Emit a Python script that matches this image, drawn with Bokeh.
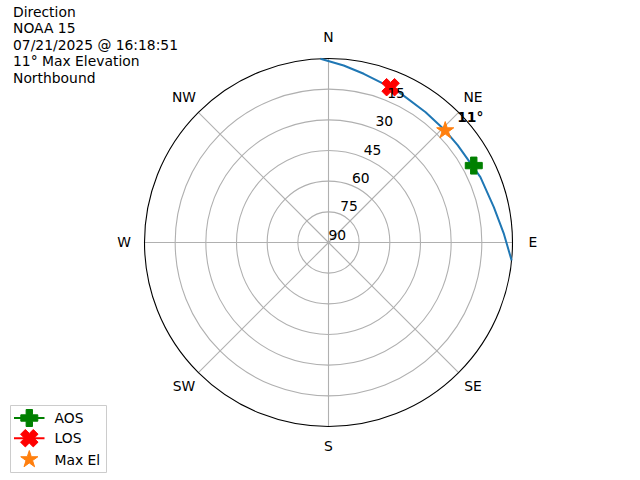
import numpy as np
from bokeh.plotting import figure
from bokeh.models import Range1d
from bokeh.core.properties import value
from bokeh.embed import file_html
from bokeh.resources import INLINE

# ---------------- data (azimuth deg, elevation deg) ----------------
sat_name = "NOAA 15"
pass_time = "07/21/2025 @ 16:18:51"
direction = "Northbound"
max_el = 11

track_az = [-2.5, 4.9, 11.8, 19.2, 25.1, 36.7, 46.2, 53.0, 66.7, 77.9, 87.2, 95.6]
track_el = [0.0, 3.1, 5.7, 7.8, 8.8, 10.5, 10.9, 10.9, 9.1, 7.3, 4.1, 0.0]

aos_az, aos_el = [62.1], [9.6]
los_az, los_el = [21.8], [8.2]
max_az, max_elv = [46.2], [10.9]

ring_els = [90, 75, 60, 45, 30, 15]
compass_labels = ["N", "NE", "E", "SE", "S", "SW", "W", "NW"]
compass_az = [0, 45, 90, 135, 180, 225, 270, 315]
rlabel_az = 22.5
legend_labels = ["AOS", "LOS", "Max El"]

# ---------------- layout helpers ----------------
W, H = 640, 480
S = 184.0 / 90.0          # px per elevation unit
CX, CY = 328, 242         # centre in figure pixels

def to_xy(az, el):
    r = 90.0 - np.asarray(el, dtype=float)
    a = np.radians(np.asarray(az, dtype=float))
    return r * np.sin(a), r * np.cos(a)

def pol(az, r):
    a = np.radians(np.asarray(az, dtype=float))
    r = np.asarray(r, dtype=float)
    return r * np.sin(a), r * np.cos(a)

def px(X, Y):
    return (np.asarray(X, dtype=float) - CX) / S, (CY - np.asarray(Y, dtype=float)) / S

p = figure(width=W, height=H, output_backend="svg", toolbar_location=None,
           x_range=Range1d(-CX / S, (W - CX) / S),
           y_range=Range1d((CY - H) / S, CY / S),
           min_border=0)
p.axis.visible = False
p.grid.visible = False
p.outline_line_color = None
p.background_fill_color = "white"

FONT = "DejaVu Sans"
FS = "13.89px"
grid_col = "#b0b0b0"

# rings
ring_r = [90 - e for e in ring_els if e < 90]
p.circle(x=[0] * len(ring_r), y=[0] * len(ring_r), radius=ring_r,
         fill_color=None, line_color=grid_col, line_width=1.1)
# spokes
sx, sy = pol(compass_az, [90] * len(compass_az))
p.segment(x0=[0] * len(compass_az), y0=[0] * len(compass_az), x1=sx, y1=sy,
          line_color=grid_col, line_width=1.1)
# outer circle
p.circle(x=[0], y=[0], radius=[90], fill_color=None, line_color="black", line_width=1.1)

# track
tx, ty = to_xy(track_az, track_el)
p.line(tx, ty, line_color="#1f77b4", line_width=2)

# markers
ax_, ay_ = to_xy(aos_az, aos_el)
lx_, ly_ = to_xy(los_az, los_el)
mx_, my_ = to_xy(max_az, max_elv)

p.scatter(ax_, ay_, marker="plus", size=17, color="green")
p.scatter(lx_, ly_, marker="plus", angle=np.pi / 4, size=18, color="red")
p.scatter(mx_, my_, marker="star", size=18, color="#ff7f0e")

p.text(mx_, my_, text=[f"{max_el}°"], text_font=value(FONT), text_font_size=FS,
       text_font_style="bold", text_align="left", text_baseline="middle",
       x_offset=12, y_offset=-14, text_color="black")

# ring labels
rx, ry = pol([rlabel_az] * len(ring_els), [90 - e for e in ring_els])
p.text(rx, ry, text=[str(e) for e in ring_els], text_font=value(FONT), text_font_size=FS,
       text_align="left", text_baseline="bottom", y_offset=-3, text_color="black")

# compass labels
cx_, cy_ = pol(compass_az, [100] * len(compass_az))
p.text(cx_, cy_, text=compass_labels, text_font=value(FONT), text_font_size=FS,
       text_align="center", text_baseline="middle", y_offset=-1, text_color="black")

# title block
title = f"Direction\n{sat_name}\n{pass_time}\n{max_el}° Max Elevation\n{direction}"
tx0, ty0 = px(12.5, 3)
p.text([tx0], [ty0], text=[title], text_font=value(FONT), text_font_size=FS,
       text_align="left", text_baseline="top", text_line_height=1.04, text_color="black")

# ---------------- legend (drawn as glyphs, lower-left) ----------------
bx0, by0 = px(10, 405)
bx1, by1 = px(106, 472)
p.quad(left=[bx0], right=[bx1], top=[by0], bottom=[by1],
       fill_color="white", fill_alpha=0.8, line_color="#cccccc", line_width=1)
row_y = [417.5, 437.7, 459.0]
hx0, _ = px(13.5, 0)
hx1, _ = px(44, 0)
hxm, _ = px(28.8, 0)
txl, _ = px(54, 0)
_, ry0 = px(0, row_y[0])
_, ry1 = px(0, row_y[1])
_, ry2 = px(0, row_y[2])
p.segment(x0=[hx0, hx0], y0=[ry0, ry1], x1=[hx1, hx1], y1=[ry0, ry1],
          line_color=["green", "red"], line_width=2)
p.scatter([hxm], [ry0], marker="plus", size=17, color="green")
p.scatter([hxm], [ry1], marker="plus", angle=np.pi / 4, size=18, color="red")
p.scatter([hxm], [ry2], marker="star", size=18, color="#ff7f0e")
p.text([txl] * 3, [ry0, ry1, ry2], text=legend_labels, text_font=value(FONT),
       text_font_size=FS, text_align="left", text_baseline="middle", text_color="black")

open("out.html", "w").write(file_html(p, INLINE))
